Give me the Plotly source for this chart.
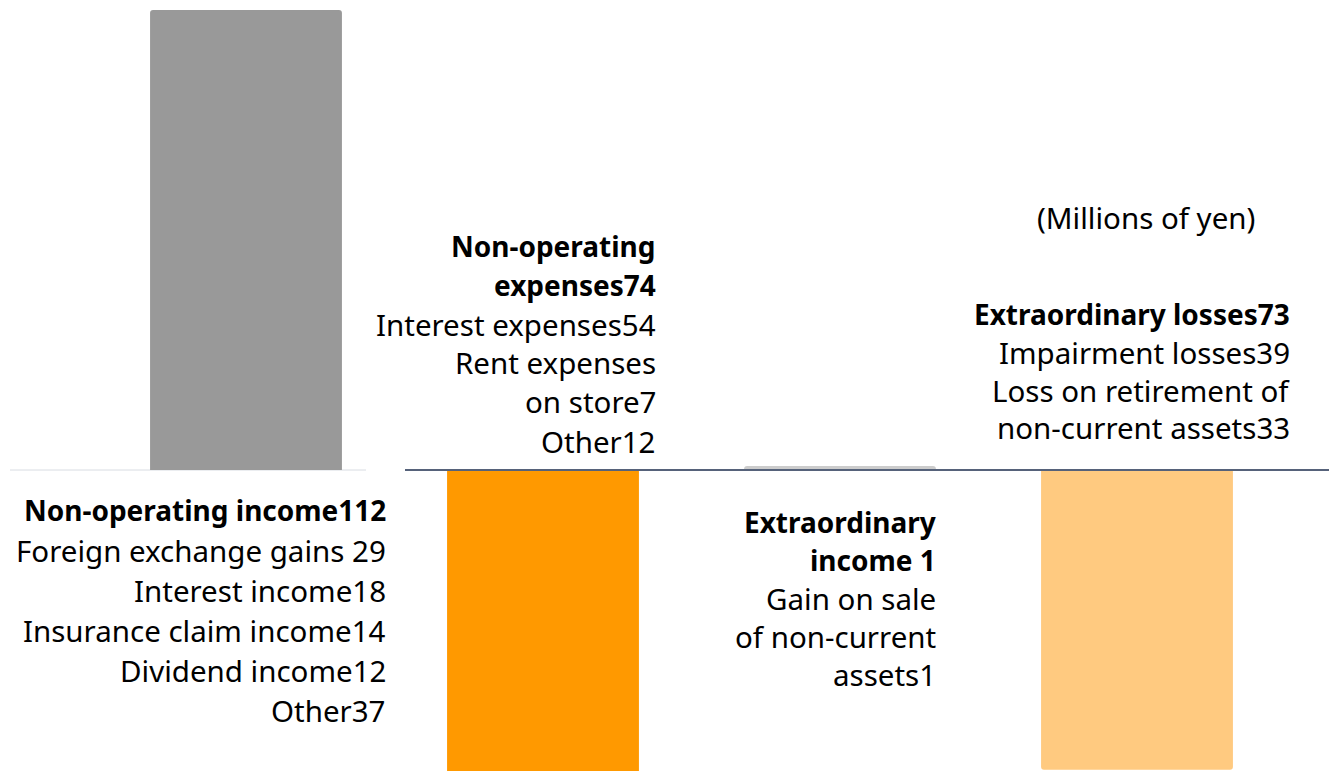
import plotly.graph_objects as go

categories = ["Non-operating income", "Non-operating expenses", "Extraordinary income", "Extraordinary losses"]
values = [112, -74, 1, -73]
colors = ["#999999", "#ff9900", "#cccccc", "#ffca80"]

label_blocks = [
    {"bold": ["Non-operating income112"],
     "plain": ["Foreign exchange gains 29", "Interest income18", "Insurance claim income14",
               "Dividend income12", "Other37"]},
    {"bold": ["Non-operating", "expenses74"],
     "plain": ["Interest expenses54", "Rent expenses", "on store7", "Other12"]},
    {"bold": ["Extraordinary", "income 1"],
     "plain": ["Gain on sale", "of non-current", "assets1"]},
    {"bold": ["Extraordinary losses73"],
     "plain": ["Impairment losses39", "Loss on retirement of", "non-current assets33"]},
]
unit_label = "(Millions of yen)"

W, H = 1337, 771
OFF = 8  # page body margin
FONT = "Noto Sans"
FS_PLAIN = 29.5
FS_BOLD = 28

fig = go.Figure()
fig.add_trace(go.Bar(
    x=list(range(len(categories))), y=values,
    marker=dict(color=colors, line=dict(width=0)),
    width=0.646, hoverinfo="skip", showlegend=False,
    customdata=categories,
))

# block layout: (right edge px, first line center px, line pitch px) in window coords
block_pos = [(388, 510, 40), (658, 246, 39), (938, 522, 38), (1292, 314, 38)]

anns = []
for blk, (xr, y0, pitch) in zip(label_blocks, block_pos):
    lines = [(t, True) for t in blk["bold"]] + [(t, False) for t in blk["plain"]]
    for i, (t, b) in enumerate(lines):
        yc = y0 + i * pitch - OFF
        anns.append(dict(
            x=(xr - OFF) / W, y=1 - yc / H, xref="paper", yref="paper",
            xanchor="right", yanchor="middle", showarrow=False,
            text=f"<b>{t}</b>" if b else t,
            font=dict(family=FONT, size=FS_BOLD if b else FS_PLAIN, color="#000000"),
        ))
anns.append(dict(x=(1146 - OFF) / W, y=1 - (218 - OFF) / H, xref="paper", yref="paper",
                 xanchor="center", yanchor="middle", showarrow=False, text=unit_label,
                 font=dict(family=FONT, size=FS_PLAIN, color="#000000")))

base_px = 470 - OFF
px_per_unit = 460 / 112
y_top = base_px / px_per_unit
y_bot = -(H - base_px) / px_per_unit
c0 = 246 - OFF
pitch_x = 297
x_left = -c0 / pitch_x
x_right = (W - c0) / pitch_x

def xd(px):
    return (px - OFF - c0) / pitch_x

fig.update_layout(
    width=W, height=H,
    margin=dict(l=0, r=0, t=0, b=0),
    paper_bgcolor="white", plot_bgcolor="white",
    barcornerradius=3,
    xaxis=dict(range=[x_left, x_right], visible=False, fixedrange=True),
    yaxis=dict(range=[y_bot, y_top], visible=False, fixedrange=True),
    annotations=anns,
    shapes=[
        dict(type="line", xref="x", yref="y", x0=xd(10), x1=xd(366),
             y0=0, y1=0, line=dict(color="#d8dce2", width=1), layer="below"),
        dict(type="line", xref="x", yref="y", x0=xd(405), x1=x_right,
             y0=0, y1=0, line=dict(color="#56627a", width=2), layer="above"),
    ],
)

fig.write_html("out.html")
